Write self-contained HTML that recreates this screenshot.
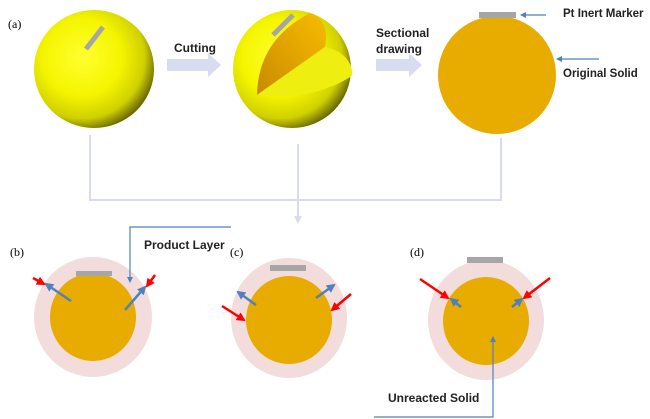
<!DOCTYPE html>
<html><head><meta charset="utf-8"><style>
html,body{margin:0;padding:0;background:#fff;}
svg{display:block;}
.s{font-family:"Liberation Sans",sans-serif;}
.r{font-family:"Liberation Serif",serif;}
</style></head><body>
<svg width="650" height="419" viewBox="0 0 650 419" xmlns="http://www.w3.org/2000/svg">
<defs>
<radialGradient id="sph" cx="0.4" cy="0.4" r="0.65">
<stop offset="0" stop-color="#ffff30"/><stop offset="0.5" stop-color="#f5f500"/><stop offset="0.8" stop-color="#d0d000"/><stop offset="1" stop-color="#5e5a00"/>
</radialGradient>
<linearGradient id="org" x1="0" y1="1" x2="1" y2="0">
<stop offset="0" stop-color="#c98a00"/><stop offset="1" stop-color="#f8bc00"/>
</linearGradient>
<marker id="ab" markerWidth="6" markerHeight="6" refX="5" refY="3" orient="auto" markerUnits="userSpaceOnUse"><path d="M0,0 L6,3 L0,6 z" fill="#4f81bd"/></marker>
<marker id="ab2" markerWidth="9" markerHeight="9" refX="7" refY="4.5" orient="auto" markerUnits="userSpaceOnUse"><path d="M0,0 L9,4.5 L0,9 z" fill="#4f81bd"/></marker>
<marker id="ar" markerWidth="9" markerHeight="9" refX="7" refY="4.5" orient="auto" markerUnits="userSpaceOnUse"><path d="M0,0 L9,4.5 L0,9 z" fill="#ff0000"/></marker>
</defs>
<text class="r" x="8" y="28" font-size="12">(a)</text>
<!-- sphere 1 -->
<ellipse cx="94" cy="69" rx="60" ry="59" fill="url(#sph)"/>
<line x1="103" y1="27" x2="86" y2="49" stroke="#a6a6a6" stroke-width="5"/>
<!-- arrow cutting -->
<path d="M167,59 H208 V53 L221,65 L208,77 V71 H167 z" fill="#d9dcf0"/>
<text class="s" x="174" y="52" font-size="12" font-weight="bold" fill="#222">Cutting</text>
<!-- sphere 2 -->
<ellipse cx="292" cy="69" rx="59" ry="59" fill="url(#sph)"/>
<path d="M257,95 Q258,40 310,13 Q330,20 325,47 Z" fill="url(#org)"/>
<path d="M257,95 L325,47 Q348,52 352,70 L352,76 Q310,102 257,95 Z" fill="#eeee10"/>
<line x1="293" y1="15" x2="273" y2="35" stroke="#a6a6a6" stroke-width="5"/>
<!-- arrow sectional -->
<path d="M376,59 H409 V53 L422,65 L409,77 V71 H376 z" fill="#d9dcf0"/>
<text class="s" x="376" y="37" font-size="12" font-weight="bold" fill="#222">Sectional</text>
<text class="s" x="376" y="53" font-size="12" font-weight="bold" fill="#222">drawing</text>
<!-- circle 3 -->
<ellipse cx="497" cy="75" rx="59" ry="59" fill="#e8ab00"/>
<rect x="479" y="12" width="37" height="6" fill="#a6a6a6"/>
<line x1="546" y1="15" x2="521" y2="15" stroke="#4f81bd" stroke-width="1.2" marker-end="url(#ab)"/>
<text class="s" x="563" y="17" font-size="11.5" font-weight="bold" fill="#222">Pt Inert Marker</text>
<line x1="599" y1="59" x2="557" y2="59" stroke="#4f81bd" stroke-width="1.2" marker-end="url(#ab)"/>
<text class="s" x="563" y="77" font-size="11.5" font-weight="bold" fill="#222">Original Solid</text>
<!-- connectors -->
<path d="M90,135 V200 H501 V138" fill="none" stroke="#d9dcf0" stroke-width="2"/>
<line x1="298" y1="144" x2="298" y2="218" stroke="#d9dcf0" stroke-width="2"/>
<path d="M294,216 L298,224 L302,216 z" fill="#d9dcf0"/>
<!-- b -->
<text class="r" x="10" y="256" font-size="12">(b)</text>
<ellipse cx="93" cy="317" rx="59" ry="60" fill="#f2dcdc"/>
<ellipse cx="93" cy="317" rx="43" ry="44" fill="#e8ab00"/>
<rect x="76" y="271" width="36" height="5" fill="#a6a6a6"/>
<path d="M231,227 H130 V282" fill="none" stroke="#4f81bd" stroke-width="1.2" marker-end="url(#ab)"/>
<text class="s" x="144" y="249" font-size="12" font-weight="bold" fill="#222">Product Layer</text>
<line x1="71" y1="301" x2="46" y2="284" stroke="#4f81bd" stroke-width="2.5" marker-end="url(#ab2)"/>
<line x1="125" y1="310" x2="145" y2="287" stroke="#4f81bd" stroke-width="2.5" marker-end="url(#ab2)"/>
<line x1="33" y1="278" x2="44" y2="284" stroke="#ff0000" stroke-width="2.5" marker-end="url(#ar)"/>
<line x1="155" y1="275" x2="147" y2="286" stroke="#ff0000" stroke-width="2.5" marker-end="url(#ar)"/>
<!-- c -->
<text class="r" x="230" y="256" font-size="12">(c)</text>
<ellipse cx="289" cy="318" rx="58" ry="60" fill="#f2dcdc"/>
<ellipse cx="289" cy="320" rx="43" ry="44" fill="#e8ab00"/>
<rect x="270" y="265" width="36" height="6" fill="#a6a6a6"/>
<line x1="256" y1="305" x2="238" y2="292" stroke="#4f81bd" stroke-width="2.5" marker-end="url(#ab2)"/>
<line x1="316" y1="298" x2="334" y2="285" stroke="#4f81bd" stroke-width="2.5" marker-end="url(#ab2)"/>
<line x1="222" y1="306" x2="244" y2="320" stroke="#ff0000" stroke-width="2.5" marker-end="url(#ar)"/>
<line x1="351" y1="294" x2="332" y2="310" stroke="#ff0000" stroke-width="2.5" marker-end="url(#ar)"/>
<!-- d -->
<text class="r" x="410" y="256" font-size="12">(d)</text>
<ellipse cx="486" cy="320" rx="58" ry="60" fill="#f2dcdc"/>
<ellipse cx="486" cy="321" rx="43" ry="44" fill="#e8ab00"/>
<rect x="467" y="257" width="36" height="6" fill="#a6a6a6"/>
<line x1="420" y1="279" x2="448" y2="298" stroke="#ff0000" stroke-width="2.5" marker-end="url(#ar)"/>
<line x1="550" y1="278" x2="524" y2="298" stroke="#ff0000" stroke-width="2.5" marker-end="url(#ar)"/>
<line x1="461" y1="307" x2="451" y2="299" stroke="#4f81bd" stroke-width="2.5" marker-end="url(#ab2)"/>
<line x1="512" y1="307" x2="522" y2="299" stroke="#4f81bd" stroke-width="2.5" marker-end="url(#ab2)"/>
<path d="M374,417 H493 V337" fill="none" stroke="#4f81bd" stroke-width="1.2" marker-end="url(#ab)"/>
<text class="s" x="388" y="402" font-size="12" font-weight="bold" fill="#222">Unreacted Solid</text>
</svg>
</body></html>
